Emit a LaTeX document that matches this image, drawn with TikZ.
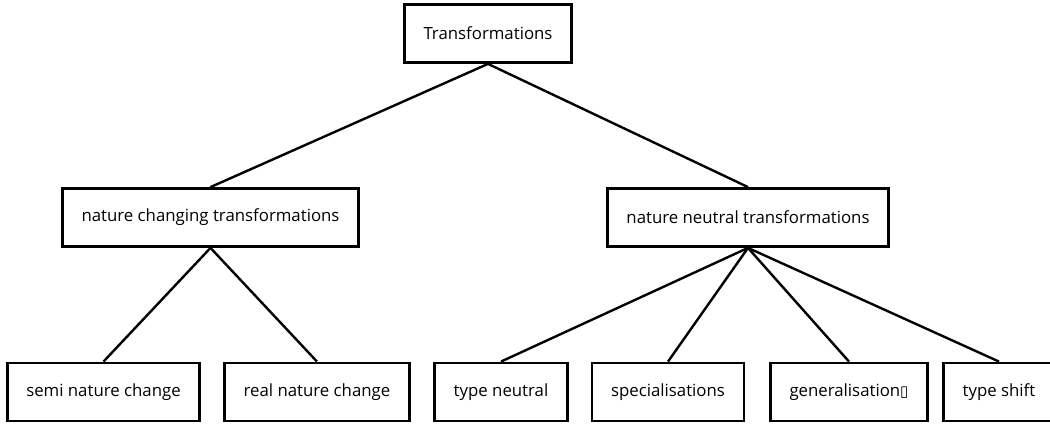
\documentclass[tikz,border=0pt]{standalone}
\usepackage{fontspec}
\setmainfont{Open Sans}
\newfontfamily\glyphfont{DejaVu Sans}
\usetikzlibrary{positioning}

\begin{document}
\begin{tikzpicture}[x=1pt, y=-1pt, line width=2.4pt,
                    font=\fontsize{16.8}{20}\selectfont]
  \tikzstyle{tbox}=[draw=black, fill=white, line width=2.8pt,
                    minimum height=58pt, inner xsep=19pt]
  \useasboundingbox (0,0) rectangle (1050,427);

  \node[tbox] (T)   at (488,33.5)  {Transformations};
  \node[tbox] (NC)  at (210.5,217.5) {nature changing transformations};
  \node[tbox] (NN)  at (748,217.5) {nature neutral transformations};

  \node[tbox] (SNC) at (103.5,392) {semi nature change};
  \node[tbox] (RNC) at (317,392)   {real nature change};
  \node[tbox] (TN)  at (501,392)   {type neutral};
  \node[tbox] (SP)  at (668,392)   {specialisations};
  \node[tbox] (GE)  at (849,392)   {generalisation{\glyphfont\fontsize{15}{18}\selectfont ▯}};
  \node[tbox] (TS)  at (999,392)   {type shift};

  \path (T.south)  edge (NC.north)
                   edge (NN.north)
        (NC.south) edge (SNC.north)
                   edge (RNC.north)
        (NN.south) edge (TN.north)
                   edge (SP.north)
                   edge (GE.north)
                   edge (TS.north);
\end{tikzpicture}
\end{document}
